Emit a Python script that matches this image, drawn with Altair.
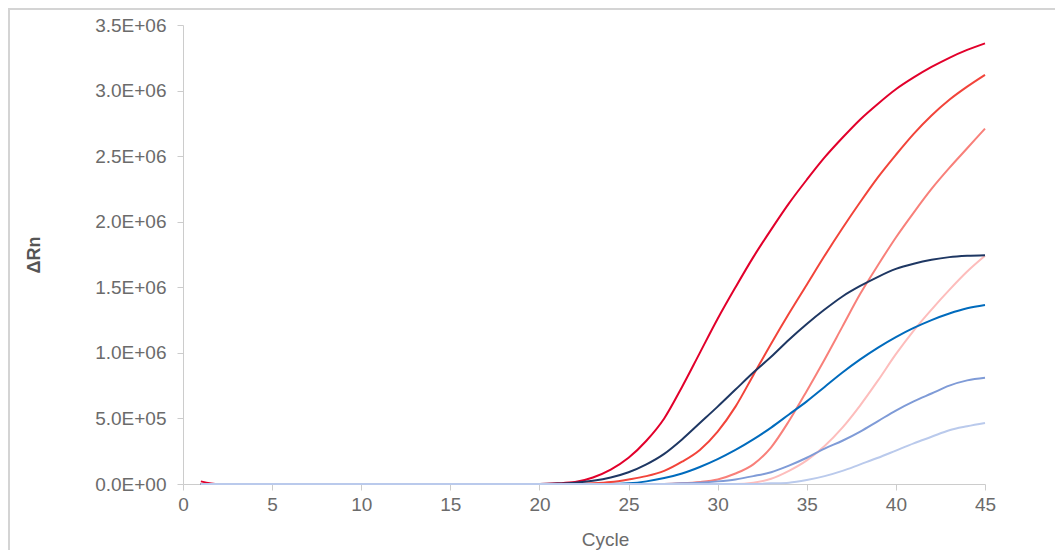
import altair as alt
import pandas as pd

# Cycle numbers
cycles = list(range(1, 46))

# Delta Rn values in millions
s_crimson = [0.02] + [0.0] * 19 + [0.005, 0.015, 0.05, 0.11, 0.20, 0.33, 0.50, 0.74, 1.00, 1.26,
                                   1.50, 1.73, 1.94, 2.14, 2.32, 2.49, 2.64, 2.78, 2.90, 3.01,
                                   3.10, 3.18, 3.25, 3.31, 3.36]
s_red = [0.0] * 22 + [0.005, 0.015, 0.035, 0.06, 0.10, 0.17, 0.26, 0.40, 0.59, 0.83,
                      1.07, 1.30, 1.52, 1.74, 1.95, 2.15, 2.34, 2.51, 2.67, 2.81,
                      2.93, 3.03, 3.12]
s_salmon = [0.0] * 27 + [0.005, 0.015, 0.035, 0.08, 0.15, 0.28, 0.48, 0.71, 0.95, 1.20,
                         1.45, 1.67, 1.88, 2.07, 2.25, 2.41, 2.56, 2.71]
s_pink = [0.0] * 31 + [0.01, 0.04, 0.10, 0.18, 0.29, 0.43, 0.60, 0.79, 0.99, 1.17,
                       1.33, 1.48, 1.62, 1.74]
s_navy = [0.0] * 20 + [0.003, 0.01, 0.025, 0.05, 0.09, 0.15, 0.23, 0.34, 0.465, 0.59,
                       0.72, 0.85, 0.97, 1.10, 1.22, 1.33, 1.43, 1.51, 1.58, 1.64,
                       1.68, 1.71, 1.73, 1.74, 1.745]
s_blue = [0.0] * 24 + [0.005, 0.02, 0.045, 0.08, 0.13, 0.19, 0.26, 0.34, 0.43, 0.53,
                       0.63, 0.74, 0.85, 0.95, 1.04, 1.12, 1.19, 1.25, 1.30, 1.34, 1.365]
s_peri = [0.0] * 27 + [0.005, 0.01, 0.02, 0.035, 0.06, 0.09, 0.14, 0.20, 0.27, 0.33,
                       0.40, 0.48, 0.56, 0.63, 0.69, 0.75, 0.79, 0.81]
s_light = [0.0] * 32 + [0.005, 0.01, 0.03, 0.06, 0.10, 0.15, 0.20, 0.255, 0.31, 0.36,
                        0.41, 0.44, 0.465]

series_names = ["s1", "s2", "s3", "s4", "s5", "s6", "s7", "s8"]
series_values = [s_crimson, s_red, s_salmon, s_pink, s_navy, s_blue, s_peri, s_light]
series_colors = ["#e2002b", "#f2443a", "#f8807a", "#fdbdbc", "#1e3763", "#006bbd", "#7f9bd7", "#bacaec"]

x_ticks = [0, 5, 10, 15, 20, 25, 30, 35, 40, 45]
y_ticks = [0, 500000, 1000000, 1500000, 2000000, 2500000, 3000000, 3500000]

rows = []
for name, vals in zip(series_names, series_values):
    for c, v in zip(cycles, vals):
        rows.append({"series": name, "cycle": c, "drn": v * 1e6})
df = pd.DataFrame(rows)

FONT = "Liberation Sans"
GREY = "#6b6b6b"

lines = alt.Chart(df).mark_line(strokeWidth=2, interpolate="monotone", clip=False).encode(
    x=alt.X("cycle:Q",
            scale=alt.Scale(domain=[0, 45], nice=False),
            axis=alt.Axis(values=x_ticks, title="Cycle", grid=False, labelFlush=False,
                          domainColor="#cccccc", tickColor="#cccccc", tickSize=6,
                          labelFont=FONT, labelFontSize=19, labelColor=GREY, labelPadding=5,
                          titleFont=FONT, titleFontSize=19, titleColor=GREY,
                          titleFontWeight="normal", titleX=422, titleY=61,
                          titleBaseline="alphabetic")),
    y=alt.Y("drn:Q",
            scale=alt.Scale(domain=[0, 3500000], nice=False),
            axis=alt.Axis(values=y_ticks, title="ΔRn", grid=False,
                          labelExpr="replace(format(datum.value, '.1e'), 'e+', 'E+0')",
                          domainColor="#cccccc", tickColor="#cccccc", tickSize=6,
                          labelFont=FONT, labelFontSize=19, labelColor=GREY, labelPadding=11,
                          titleFont=FONT, titleFontSize=18, titleColor="#555555",
                          titleFontWeight="bold", titleX=-144, titleY=229.5,
                          titleAlign="center", titleBaseline="alphabetic", titleAngle=270)),
    color=alt.Color("series:N",
                    scale=alt.Scale(domain=series_names, range=series_colors),
                    legend=None),
    order=alt.Order("cycle:Q"),
)

frame_left = alt.Chart(df).mark_rule(color="#d4d4d4", strokeWidth=1.5).encode(
    x=alt.value(-174.5), y=alt.value(-17), y2=alt.value(600)
)
frame_top = alt.Chart(df).mark_rule(color="#d4d4d4", strokeWidth=1.5).encode(
    x=alt.value(-175), x2=alt.value(900), y=alt.value(-16.5)
)

chart = alt.layer(frame_left, frame_top, lines).properties(
    width=802, height=459,
    autosize=alt.AutoSizeParams(type="none"),
    padding={"left": 175, "top": 17, "right": 70, "bottom": 66},
).configure_view(stroke=None)

chart.save("out.html", embed_options={"renderer": "svg", "actions": False})
